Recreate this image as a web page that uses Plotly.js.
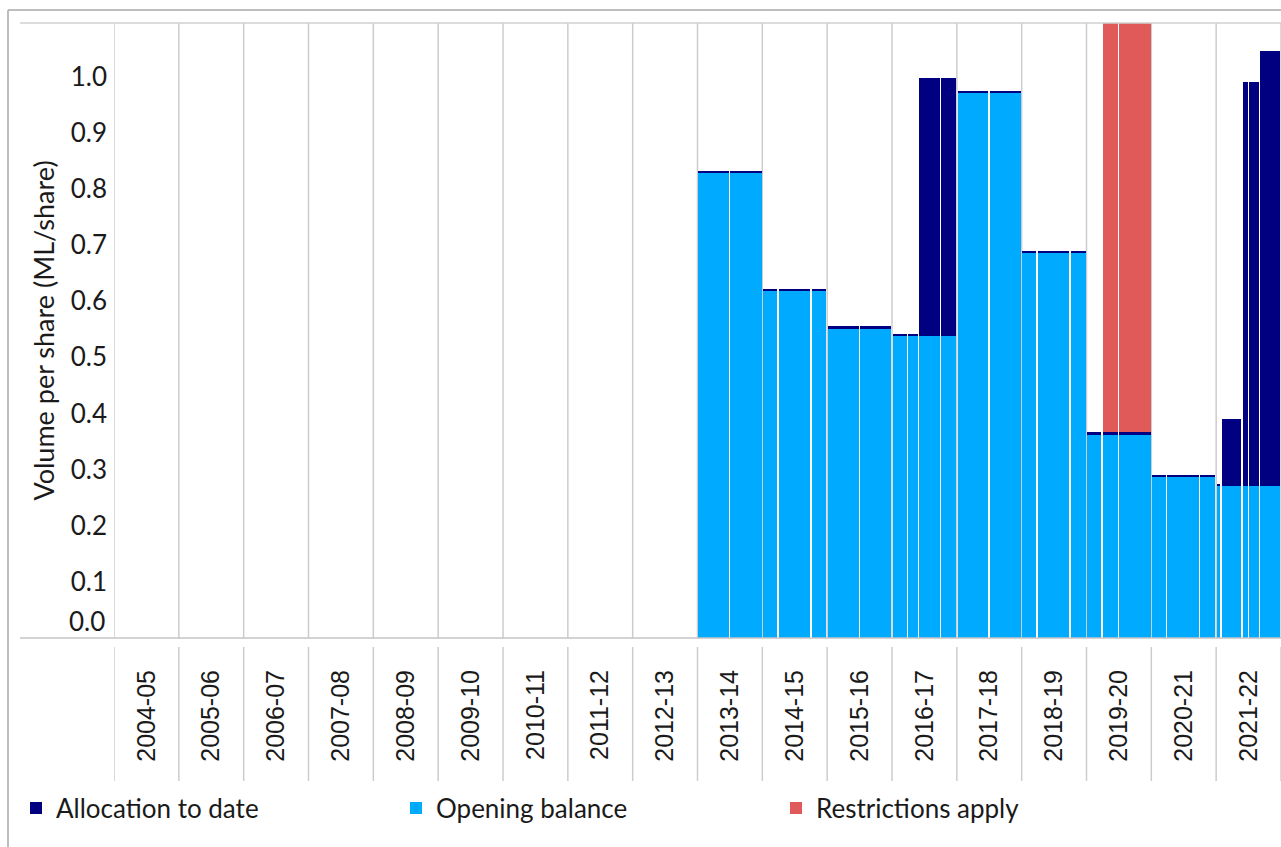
<!DOCTYPE html>
<html>
<head>
<meta charset="utf-8">
<script src="https://cdn.plot.ly/plotly-3.0.1.min.js"></script>
<style>html,body{margin:0;padding:0;background:#fff;}#chart{width:1281px;height:847px;}</style>
</head>
<body>
<div id="chart"></div>
<script>
// Water years (categories)
var years = ['2004-05','2005-06','2006-07','2007-08','2008-09','2009-10','2010-11','2011-12','2012-13',
             '2013-14','2014-15','2015-16','2016-17','2017-18','2018-19','2019-20','2020-21','2021-22'];

// Sub-periods within a year: year index, start and end as a fraction of the year
var segYear  = [9,9, 10,10,10, 11,11, 12,12,12,12, 13,13, 14,14,14, 15,15,15, 16,16,16, 17,17,17,17,17];
var segStart = [0,0.49, 0,0.24,0.75, 0,0.495, 0,0.242,0.412,0.745, 0,0.497, 0,0.236,0.745, 0,0.239,0.49, 0,0.238,0.74, 0,0.074,0.40,0.495,0.665];
var segEnd   = [0.49,1, 0.24,0.75,1, 0.495,1, 0.242,0.412,0.745,1, 0.497,1, 0.236,0.745,1, 0.239,0.49,1, 0.238,0.74,1, 0.074,0.40,0.495,0.665,1];

// Values (ML/share)
var openingBalance = [0.828,0.828, 0.618,0.618,0.618, 0.551,0.551, 0.538,0.538,0.538,0.538, 0.971,0.971,
                      0.686,0.686,0.686, 0.362,0.362,0.362, 0.287,0.287,0.287, 0.27,0.27,0.27,0.27,0.27];
var allocationToDate = [0.004,0.004, 0.004,0.004,0.004, 0.004,0.004, 0.004,0.004,0.46,0.46, 0.004,0.004,
                        0.004,0.004,0.004, 0.004,0.004,0.004, 0.004,0.004,0.004, 0.004,0.12,0.72,0.72,0.775];
var restrictionsApply = [0,0, 0,0,0, 0,0, 0,0,0,0, 0,0, 0,0,0, 0,0.73,0.73, 0,0,0, 0,0,0,0,0];

var yTicks = [0.1,0.2,0.3,0.4,0.5,0.6,0.7,0.8,0.9,1.0];

// ---- build ----
var GAP = 0.022;
var segX = segYear.map(function(k,i){ return k + (segStart[i] + segEnd[i]) / 2; });
var segW = segYear.map(function(k,i){ return (segEnd[i] - segStart[i]) - GAP; });

var FONT = 'Lato, "Open Sans", sans-serif';
var TXT = '#1a1a1a';

var traces = [
  {type:'bar', name:'Opening balance', x:segX, y:openingBalance, width:segW,
   marker:{color:'#00aaff', line:{width:0}}, legendrank:2, hoverinfo:'skip'},
  {type:'bar', name:'Allocation to date', x:segX, y:allocationToDate, width:segW,
   marker:{color:'#000080', line:{width:0}}, legendrank:1, hoverinfo:'skip'},
  {type:'bar', name:'Restrictions apply', x:segX, y:restrictionsApply, width:segW,
   marker:{color:'#e05a5a', line:{width:0}}, legendrank:3, hoverinfo:'skip'}
];

var W = 1281, H = 847, L = 114, T = 23, B = 209;
var plotW = W - L, plotH = H - T - B;
function px2paperX(p){ return (p - L) / plotW; }
function px2paperY(p){ return (H - B - p) / plotH; }

var shapes = [];
var gridColor = '#cccccc';
for (var k = 0; k <= years.length; k++) {
  shapes.push({type:'line', xref:'x', yref:'paper', x0:k, x1:k, y0:0, y1:1,
               line:{color:gridColor, width:1.5}, layer:'below'});
  shapes.push({type:'line', xref:'x', yref:'paper', x0:k, x1:k, y0:px2paperY(647), y1:px2paperY(781),
               line:{color:gridColor, width:1.5}, layer:'below'});
}
// top and base lines of the plot frame
shapes.push({type:'line', xref:'paper', yref:'paper', x0:px2paperX(20), x1:1.01, y0:1, y1:1,
             line:{color:'#d0d0d0', width:1.5}});
shapes.push({type:'line', xref:'paper', yref:'paper', x0:px2paperX(20), x1:1.01, y0:0, y1:0,
             line:{color:'#c4c4c4', width:1.5}});
// outer chart border
shapes.push({type:'line', xref:'paper', yref:'paper', x0:px2paperX(8), x1:1.01, y0:px2paperY(10), y1:px2paperY(10),
             line:{color:'#a8a8a8', width:1.5}});
shapes.push({type:'line', xref:'paper', yref:'paper', x0:px2paperX(8), x1:px2paperX(8), y0:px2paperY(10), y1:px2paperY(850),
             line:{color:'#a8a8a8', width:1.5}});

var layout = {
  width:W, height:H,
  margin:{l:L, r:0, t:T, b:B, pad:0},
  paper_bgcolor:'#ffffff', plot_bgcolor:'rgba(0,0,0,0)',
  barmode:'stack', bargap:0,
  font:{family:FONT, color:TXT, size:26},
  showlegend:true,
  legend:{orientation:'h', traceorder:'normal', x:px2paperX(16), xanchor:'left', y:px2paperY(808), yanchor:'middle',
          font:{family:FONT, size:26, color:TXT}, entrywidth:335, entrywidthmode:'pixels', bgcolor:'rgba(0,0,0,0)'},
  xaxis:{range:[0, years.length], showgrid:false, zeroline:false, showline:false, ticks:'',
         tickmode:'array', tickvals:years.map(function(_,i){return i+0.5;}), ticktext:years,
         tickangle:-90, ticklabelstandoff:26,
         tickfont:{family:'"Liberation Sans", Arial, sans-serif', size:25, color:TXT}, fixedrange:true},
  yaxis:{range:[0, 1.0953], showgrid:false, zeroline:false, showline:false, ticks:'',
         tickmode:'array', tickvals:yTicks, ticktext:yTicks.map(function(v){return v.toFixed(1);}),
         tickfont:{family:FONT, size:26, color:TXT}, ticklabelstandoff:6,
         title:{text:'Volume per share (ML/share)', font:{family:FONT, size:27, color:TXT}, standoff:8},
         fixedrange:true},
  shapes:shapes,
  annotations:[{text:'0.0', xref:'paper', x:0, xanchor:'right', xshift:-7, yref:'y', y:0, yanchor:'middle', yshift:17,
                showarrow:false, font:{family:FONT, size:26, color:TXT}}]
};

Plotly.newPlot('chart', traces, layout, {displayModeBar:false, staticPlot:true});
</script>
</body>
</html>
